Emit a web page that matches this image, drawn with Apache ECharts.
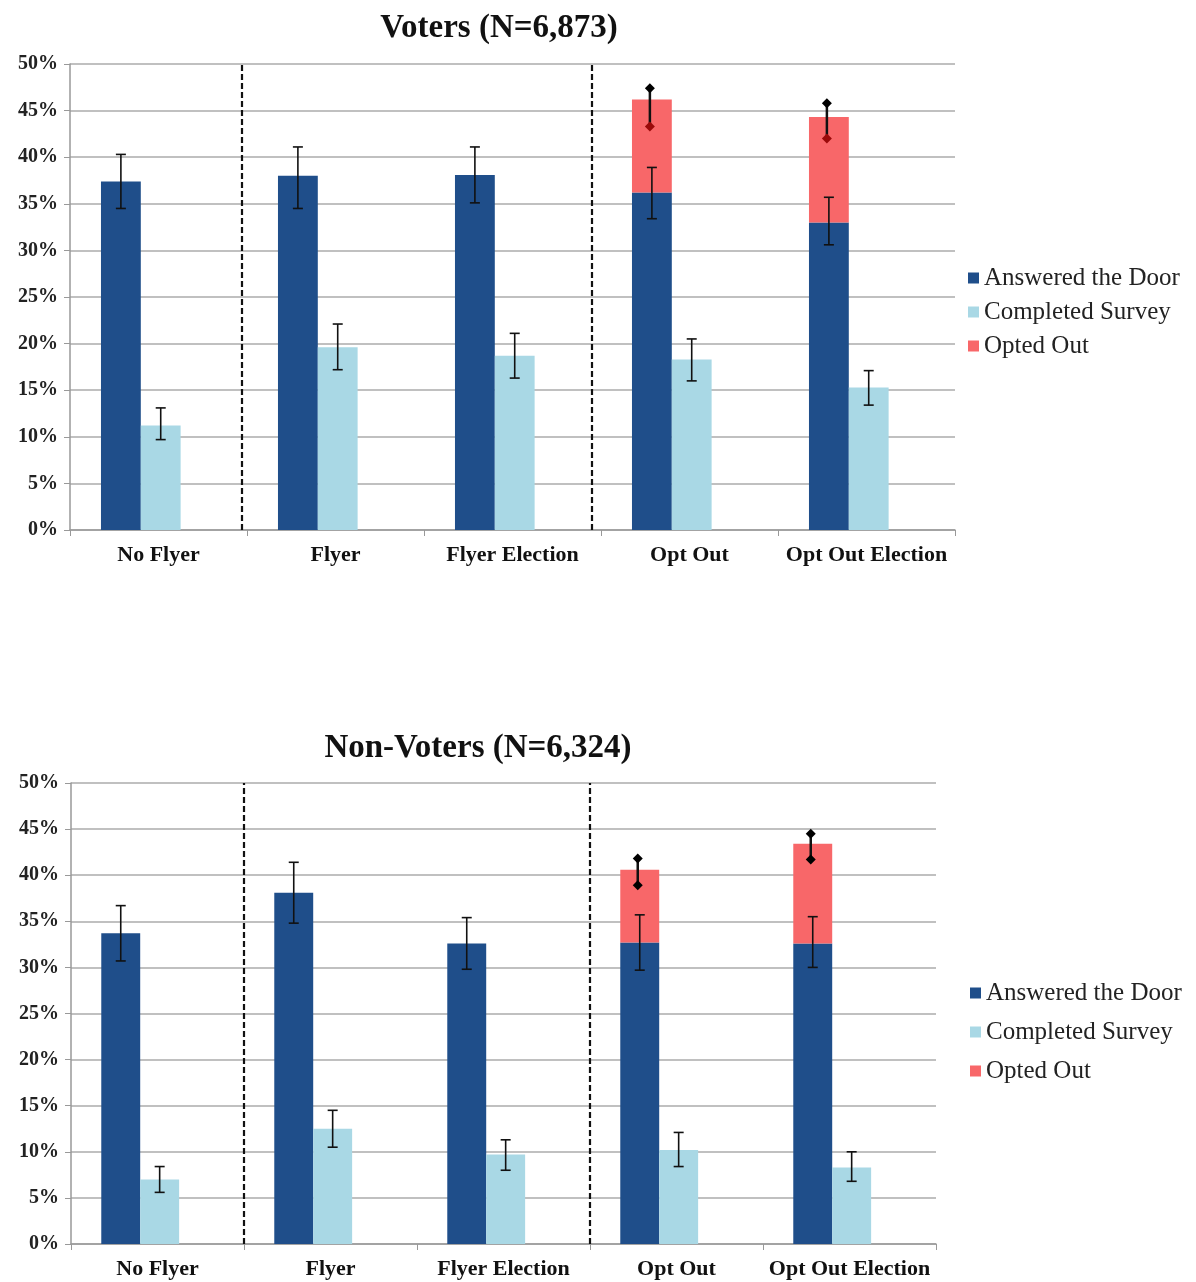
<!DOCTYPE html>
<html>
<head>
<meta charset="utf-8">
<title>Voters / Non-Voters</title>
<script src="https://cdn.jsdelivr.net/npm/echarts@6/dist/echarts.min.js"></script>
<style>
  html, body { margin: 0; padding: 0; background: #fff; }
  #main { width: 1196px; height: 1282px; }
</style>
</head>
<body>
<div id="main"></div>
<script>
// categories shared by both panels
var categories = ['No Flyer', 'Flyer', 'Flyer Election', 'Opt Out', 'Opt Out Election'];
var yTicks = [0, 5, 10, 15, 20, 25, 30, 35, 40, 45, 50];

// Voters (N=6,873)
var votersAnswered = [37.4, 38.0, 38.1, 36.2, 33.0];
var votersAnsweredLow = [34.5, 34.5, 35.1, 33.4, 30.6];
var votersAnsweredHigh = [40.3, 41.1, 41.1, 38.9, 35.7];
var votersSurvey = [11.2, 19.6, 18.7, 18.3, 15.3];
var votersSurveyLow = [9.7, 17.2, 16.3, 16.0, 13.4];
var votersSurveyHigh = [13.1, 22.1, 21.1, 20.5, 17.1];
var votersOpted = ['-', '-', '-', 10.0, 11.3];
var votersOptedLow = ['-', '-', '-', 43.3, 42.0];
var votersOptedHigh = ['-', '-', '-', 47.4, 45.8];

// Non-Voters (N=6,324)
var nonAnswered = [33.7, 38.1, 32.6, 32.7, 32.6];
var nonAnsweredLow = [30.7, 34.8, 29.8, 29.7, 30.0];
var nonAnsweredHigh = [36.7, 41.4, 35.4, 35.7, 35.5];
var nonSurvey = [7.0, 12.5, 9.7, 10.2, 8.3];
var nonSurveyLow = [5.6, 10.5, 8.0, 8.4, 6.8];
var nonSurveyHigh = [8.4, 14.5, 11.3, 12.1, 10.0];
var nonOpted = ['-', '-', '-', 7.9, 10.8];
var nonOptedLow = ['-', '-', '-', 38.9, 41.7];
var nonOptedHigh = ['-', '-', '-', 41.8, 44.5];

// group separators (position in category units from the left edge)
var votersDividers = [0.97, 2.95];
var nonDividers = [1.0, 3.0];

var DARK = '#1F4E8A';
var LIGHT = '#A9D8E5';
var RED = '#F86769';
var SERIF = 'Liberation Serif';

// bar cluster: dark | light | empty slot  (fractions of category width)
var BAR_W = 0.225, GAP_W = 0.20;
var CLUSTER = BAR_W * 2 + GAP_W;
var darkOffset = -CLUSTER / 2 + BAR_W / 2;
var lightOffset = -CLUSTER / 2 + BAR_W * 1.5;

function errData(low, high) {
  var out = [];
  for (var i = 0; i < low.length; i++) {
    if (low[i] !== '-') out.push([i, low[i], high[i]]);
  }
  return out;
}

// plain error bar with flat caps
function capBar(offset) {
  return function (params, api) {
    var idx = api.value(0);
    var lo = api.coord([idx, api.value(1)]);
    var hi = api.coord([idx, api.value(2)]);
    var bw = api.size([1, 0])[0];
    var x = lo[0] + offset * bw;
    var st = { stroke: '#111', lineWidth: 1.6 };
    return {
      type: 'group',
      children: [
        { type: 'line', shape: { x1: x, y1: lo[1], x2: x, y2: hi[1] }, style: st },
        { type: 'line', shape: { x1: x - 5, y1: lo[1], x2: x + 5, y2: lo[1] }, style: st },
        { type: 'line', shape: { x1: x - 5, y1: hi[1], x2: x + 5, y2: hi[1] }, style: st }
      ]
    };
  };
}

// opted-out error bar with diamond ends
function diamondBar(offset, lowColor) {
  return function (params, api) {
    var idx = api.value(0);
    var lo = api.coord([idx, api.value(1)]);
    var hi = api.coord([idx, api.value(2)]);
    var bw = api.size([1, 0])[0];
    var x = lo[0] + offset * bw - 2;
    var d = 5;
    function diamond(y, color) {
      return {
        type: 'polygon',
        shape: { points: [[x, y - d], [x + d, y], [x, y + d], [x - d, y]] },
        style: { fill: color }
      };
    }
    return {
      type: 'group',
      children: [
        { type: 'line', shape: { x1: x, y1: lo[1], x2: x, y2: hi[1] }, style: { stroke: '#111', lineWidth: 2.5 } },
        diamond(hi[1], '#000'),
        diamond(lo[1], lowColor)
      ]
    };
  };
}

function dividerLines(vals) {
  return vals.map(function (v) { return { xAxis: v }; });
}

function catAxis(gridIndex) {
  return {
    type: 'category', gridIndex: gridIndex, data: categories,
    axisLine: { lineStyle: { color: '#999', width: 1.5 } },
    axisTick: { show: true, length: 6, lineStyle: { color: '#999' } },
    axisLabel: { interval: 0, fontFamily: SERIF, fontWeight: 'bold', fontSize: 22, color: '#111', margin: 14 }
  };
}

function hiddenAxis(gridIndex) {
  return { type: 'value', gridIndex: gridIndex, min: 0, max: 5, show: false };
}

function valAxis(gridIndex) {
  return {
    type: 'value', gridIndex: gridIndex, min: yTicks[0], max: yTicks[yTicks.length - 1], interval: 5,
    axisLine: { show: true, lineStyle: { color: '#999', width: 1.5 } },
    axisTick: { show: true, length: 6, lineStyle: { color: '#999' } },
    axisLabel: { fontFamily: SERIF, fontWeight: 'bold', fontSize: 20, color: '#222', margin: 12, formatter: '{value}%' },
    splitLine: { lineStyle: { color: '#ababab', width: 1.5 } }
  };
}

function panelSeries(k, catIdx, hidIdx, yIdx, answered, survey, opted, aLo, aHi, sLo, sHi, oLo, oHi, dividers, lowDiamond) {
  return [
    { name: 'Answered the Door', type: 'bar', xAxisIndex: catIdx, yAxisIndex: yIdx, stack: 'door' + k,
      barWidth: (BAR_W * 100) + '%', barGap: '0%', itemStyle: { color: DARK }, data: answered },
    { name: 'Opted Out', type: 'bar', xAxisIndex: catIdx, yAxisIndex: yIdx, stack: 'door' + k,
      barWidth: (BAR_W * 100) + '%', barGap: '0%', itemStyle: { color: RED }, data: opted },
    { name: 'Completed Survey', type: 'bar', xAxisIndex: catIdx, yAxisIndex: yIdx,
      barWidth: (BAR_W * 100) + '%', barGap: '0%', itemStyle: { color: LIGHT }, data: survey },
    { name: 'spacer' + k, type: 'bar', xAxisIndex: catIdx, yAxisIndex: yIdx,
      barWidth: (GAP_W * 100) + '%', barGap: '0%', data: ['-', '-', '-', '-', '-'] },
    { type: 'custom', xAxisIndex: catIdx, yAxisIndex: yIdx, silent: true, z: 5,
      renderItem: capBar(darkOffset), encode: { x: 0, y: [1, 2] }, data: errData(aLo, aHi) },
    { type: 'custom', xAxisIndex: catIdx, yAxisIndex: yIdx, silent: true, z: 5,
      renderItem: capBar(lightOffset), encode: { x: 0, y: [1, 2] }, data: errData(sLo, sHi) },
    { type: 'custom', xAxisIndex: catIdx, yAxisIndex: yIdx, silent: true, z: 6,
      renderItem: diamondBar(darkOffset, lowDiamond), encode: { x: 0, y: [1, 2] }, data: errData(oLo, oHi) },
    { name: 'divider' + k, type: 'line', xAxisIndex: hidIdx, yAxisIndex: yIdx, data: [[0, 0]],
      showSymbol: false, lineStyle: { width: 0 }, silent: true,
      markLine: { symbol: 'none', silent: true, label: { show: false },
        lineStyle: { color: '#111', width: 2.2, type: [6, 3] }, data: dividerLines(dividers) } }
  ];
}

var legendNames = ['Answered the Door', 'Completed Survey', 'Opted Out'];
var legendText = { fontFamily: SERIF, fontSize: 25, color: '#222', lineHeight: 26 };

var myChart = echarts.init(document.getElementById('main'));
var option = {
  animation: false,
  backgroundColor: '#fff',
  title: [
    { text: 'Voters (N=6,873)', left: 494, top: 7, textAlign: 'center',
      textStyle: { fontFamily: SERIF, fontWeight: 'bold', fontSize: 33, color: '#111' } },
    { text: 'Non-Voters (N=6,324)', left: 473, top: 727, textAlign: 'center',
      textStyle: { fontFamily: SERIF, fontWeight: 'bold', fontSize: 33, color: '#111' } }
  ],
  legend: [
    { data: legendNames, orient: 'vertical', left: 963, top: 260, icon: 'rect', itemWidth: 11, itemHeight: 11,
      itemGap: 8, textStyle: legendText, selectedMode: false },
    { data: legendNames, orient: 'vertical', left: 965, top: 975, icon: 'rect', itemWidth: 11, itemHeight: 11,
      itemGap: 13, textStyle: legendText, selectedMode: false }
  ],
  grid: [
    { left: 70, top: 64, width: 885, height: 466 },
    { left: 71, top: 783, width: 865, height: 461 }
  ],
  xAxis: [catAxis(0), hiddenAxis(0), catAxis(1), hiddenAxis(1)],
  yAxis: [valAxis(0), valAxis(1)],
  series: [].concat(
    panelSeries('V', 0, 1, 0, votersAnswered, votersSurvey, votersOpted,
      votersAnsweredLow, votersAnsweredHigh, votersSurveyLow, votersSurveyHigh,
      votersOptedLow, votersOptedHigh, votersDividers, '#9B0A0A'),
    panelSeries('N', 2, 3, 1, nonAnswered, nonSurvey, nonOpted,
      nonAnsweredLow, nonAnsweredHigh, nonSurveyLow, nonSurveyHigh,
      nonOptedLow, nonOptedHigh, nonDividers, '#000')
  )
};
myChart.setOption(option);
</script>
</body>
</html>
